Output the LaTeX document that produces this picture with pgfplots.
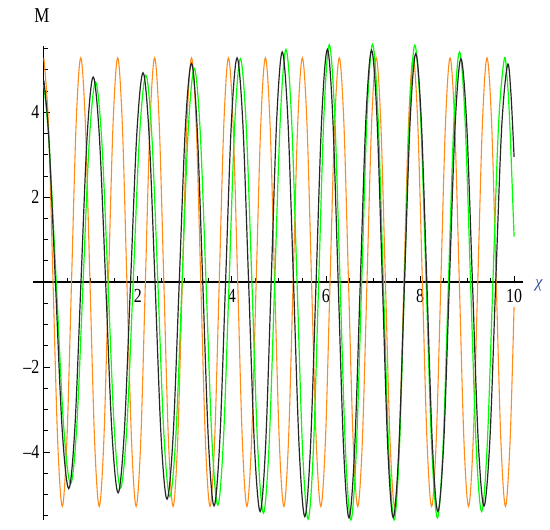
\documentclass[border=0pt]{standalone}
\usepackage{fontspec}
\setmainfont{Liberation Serif}
\usepackage{graphicx}
\usepackage{pgfplots}
\pgfplotsset{compat=1.18}
\definecolor{mOrange}{rgb}{1,0.55,0.1}
\definecolor{mGreen}{rgb}{0,1,0}
\definecolor{chiblue}{rgb}{0.25,0.35,0.6}
\newcommand{\tl}[1]{\scalebox{1}[1.25]{#1}}
\begin{document}
\begin{tikzpicture}
\useasboundingbox (-33bp,-10bp) rectangle (517bp,520bp);
\begin{axis}[
  at={(0,0)}, anchor=south west,
  scale only axis, width=490bp, height=474bp,
  xmin=-0.23, xmax=10.19, ymin=-5.6, ymax=5.56,
  axis lines=middle,
  axis line style={-, line width=1.3pt},
  clip=false,
  xtick={2,4,6,8,10},
  xticklabels={\tl{2},\tl{4},\tl{6},\tl{8},\tl{10}},
  minor xtick={0.5,1,...,10},
  ytick={-4,-2,2,4},
  yticklabels={\tl{–4},\tl{–2},\tl{2},\tl{4}},
  minor ytick={-5.5,-5,...,5.5},
  tick align=inside,
  major tick length=6bp, minor tick length=4bp,
  tick style={black, line width=0.9pt},
  tick label style={font=\fontsize{16}{19}\selectfont},
  xticklabel style={anchor=north, yshift=-4bp},
  yticklabel style={anchor=east, xshift=-1bp},
  xlabel={\fontsize{17}{20}\selectfont\itshape χ},
  ylabel={\fontsize{17}{20}\selectfont\tl{M}},
  every axis x label/.style={at={(axis cs:10.19,0)}, anchor=base west, inner sep=0pt, xshift=12bp, yshift=-5bp, text=chiblue},
  every axis y label/.style={at={(axis cs:0,5.56)}, anchor=base, inner sep=0pt, xshift=-2bp, yshift=23bp},
]
% orange
\addplot[mOrange, line width=1.1pt, smooth, tension=0.55] coordinates {
(0,5.28)(0.0982,3.73)(0.1963,0)(0.2945,-3.73)(0.3927,-5.28)(0.4909,-3.73)(0.5890,0)(0.6872,3.73)
(0.7854,5.28)(0.8836,3.73)(0.9817,0)(1.0799,-3.73)(1.1781,-5.28)(1.2763,-3.73)(1.3744,0)(1.4726,3.73)
(1.5708,5.28)(1.6690,3.73)(1.7671,0)(1.8653,-3.73)(1.9635,-5.28)(2.0617,-3.73)(2.1598,0)(2.2580,3.73)
(2.3562,5.28)(2.4544,3.73)(2.5525,0)(2.6507,-3.73)(2.7489,-5.28)(2.8471,-3.73)(2.9452,0)(3.0434,3.73)
(3.1416,5.28)(3.2398,3.73)(3.3379,0)(3.4361,-3.73)(3.5343,-5.28)(3.6325,-3.73)(3.7306,0)(3.8288,3.73)
(3.9270,5.28)(4.0252,3.73)(4.1233,0)(4.2215,-3.73)(4.3197,-5.28)(4.4179,-3.73)(4.5160,0)(4.6142,3.73)
(4.7124,5.28)(4.8106,3.73)(4.9087,0)(5.0069,-3.73)(5.1051,-5.28)(5.2033,-3.73)(5.3014,0)(5.3996,3.73)
(5.4978,5.28)(5.5960,3.73)(5.6941,0)(5.7923,-3.73)(5.8905,-5.28)(5.9887,-3.73)(6.0868,0)(6.1850,3.73)
(6.2832,5.28)(6.3814,3.73)(6.4795,0)(6.5777,-3.73)(6.6759,-5.28)(6.7741,-3.73)(6.8722,0)(6.9704,3.73)
(7.0686,5.28)(7.1668,3.73)(7.2649,0)(7.3631,-3.73)(7.4613,-5.28)(7.5595,-3.73)(7.6576,0)(7.7558,3.73)
(7.8540,5.28)(7.9522,3.73)(8.0503,0)(8.1485,-3.73)(8.2467,-5.28)(8.3449,-3.73)(8.4430,0)(8.5412,3.73)
(8.6394,5.28)(8.7376,3.73)(8.8357,0)(8.9339,-3.73)(9.0321,-5.28)(9.1303,-3.73)(9.2284,0)(9.3266,3.73)
(9.4248,5.28)(9.5230,3.73)(9.6211,0)(9.7193,-3.73)(9.8175,-5.28)(9.9157,-3.73)(10,-0.58)
};
% green
\addplot[mGreen, line width=1.2pt, smooth, tension=0.55] coordinates {
(0,4.64)(0.11,3.3)(0.265,0)(0.42,-3.36)
(0.57,-4.75)(0.7025,-3.36)(0.835,0)(0.9675,3.33)
(1.10,4.71)(1.2325,3.33)(1.365,0)(1.4975,-3.43)
(1.63,-4.85)(1.765,-3.43)(1.90,0)(2.035,3.44)
(2.17,4.87)(2.2975,3.44)(2.425,0)(2.5525,-3.57)
(2.68,-5.05)(2.81,-3.57)(2.94,0)(3.07,3.56)
(3.20,5.03)(3.325,3.56)(3.45,0)(3.575,-3.71)
(3.70,-5.25)(3.82,-3.71)(3.94,0)(4.06,3.72)
(4.18,5.26)(4.3025,3.72)(4.425,0)(4.5475,-3.85)
(4.67,-5.44)(4.79,-3.85)(4.91,0)(5.03,3.87)
(5.15,5.48)(5.2675,3.87)(5.385,0)(5.5025,-3.95)
(5.62,-5.58)(5.7325,-3.95)(5.845,0)(5.9575,3.95)
(6.07,5.59)(6.185,3.95)(6.30,0)(6.415,-3.96)
(6.53,-5.60)(6.645,-3.96)(6.76,0)(6.875,3.96)
(6.99,5.60)(7.105,3.96)(7.22,0)(7.335,-3.96)
(7.45,-5.60)(7.56,-3.96)(7.67,0)(7.78,3.95)
(7.89,5.58)(8.01,3.95)(8.13,0)(8.25,-3.92)
(8.37,-5.55)(8.4875,-3.92)(8.605,0)(8.7225,3.83)
(8.84,5.42)(8.9575,3.83)(9.075,0)(9.1925,-3.82)
(9.31,-5.40)(9.43,-3.82)(9.55,0)(9.67,3.70)
(9.79,5.24)(9.85,4.84)(9.91,3.7)(10,1.07)
};
% black
\addplot[black!85, line width=1.2pt, smooth, tension=0.55] coordinates {
(0,4.75)(0.106,3.40)(0.247,0)(0.389,-3.44)
(0.53,-4.86)(0.66,-3.44)(0.79,0)(0.92,3.41)
(1.05,4.83)(1.1825,3.41)(1.315,0)(1.4475,-3.51)
(1.58,-4.96)(1.7125,-3.51)(1.845,0)(1.9775,3.49)
(2.11,4.93)(2.2375,3.49)(2.365,0)(2.4925,-3.61)
(2.62,-5.11)(2.75,-3.61)(2.88,0)(3.01,3.64)
(3.14,5.15)(3.26,3.64)(3.38,0)(3.50,-3.73)
(3.62,-5.27)(3.7425,-3.73)(3.865,0)(3.9875,3.73)
(4.11,5.28)(4.2325,3.73)(4.355,0)(4.4775,-3.82)
(4.60,-5.40)(4.7175,-3.82)(4.835,0)(4.9525,3.83)
(5.07,5.42)(5.19,3.83)(5.31,0)(5.43,-3.90)
(5.55,-5.52)(5.67,-3.90)(5.79,0)(5.91,3.87)
(6.03,5.48)(6.145,3.87)(6.26,0)(6.375,-3.92)
(6.49,-5.55)(6.61,-3.92)(6.73,0)(6.85,3.86)
(6.97,5.46)(7.085,3.86)(7.20,0)(7.315,-3.92)
(7.43,-5.54)(7.55,-3.92)(7.67,0)(7.79,3.80)
(7.91,5.38)(8.0275,3.80)(8.145,0)(8.2625,-3.82)
(8.38,-5.40)(8.5025,-3.82)(8.625,0)(8.7475,3.72)
(8.87,5.26)(8.9925,3.72)(9.115,0)(9.2375,-3.73)
(9.36,-5.27)(9.485,-3.73)(9.61,0)(9.735,3.61)
(9.86,5.11)(9.93,4.5)(10,2.95)
};
\end{axis}
\end{tikzpicture}
\end{document}
